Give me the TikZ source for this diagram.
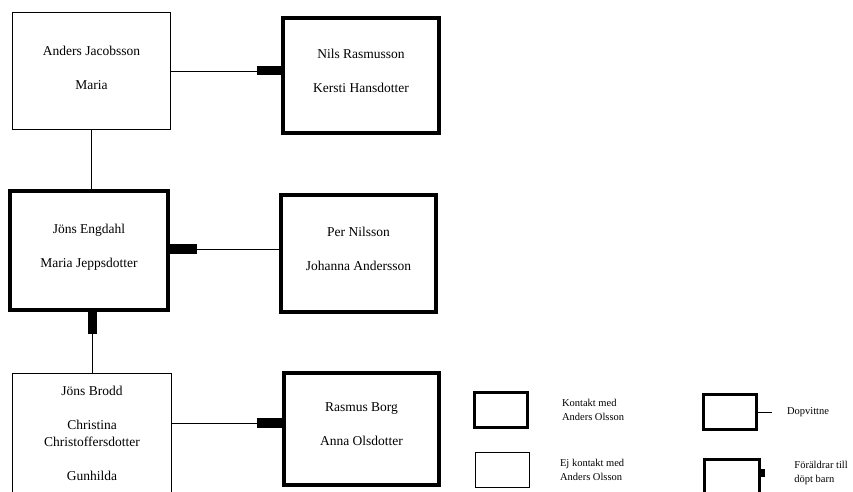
\documentclass[tikz,border=0pt]{standalone}
\usepackage{fontspec}
\setmainfont{Liberation Serif}
\usetikzlibrary{positioning}
\newcommand{\namefont}{\fontsize{13.5}{17}\selectfont}
\newcommand{\keyfont}{\fontsize{10.5}{14}\selectfont}

\begin{document}
\begin{tikzpicture}[x=1pt, y=-1pt, node distance=110pt,
    thinbox/.style={draw, line width=1pt, align=center, font=\namefont, text depth=6pt},
    thickbox/.style={draw, line width=4pt, align=center, font=\namefont, text depth=10pt},
    parentstub/.style={fill, inner sep=0pt},
    connector/.style={line width=0.8pt},
    keytext/.style={align=left, font=\keyfont}]
  \useasboundingbox (0,0) rectangle (853,492);

  \node [thinbox, minimum width=158pt, minimum height=117pt] (andersj) at (91.5,71) {
    Anders Jacobsson \\[17pt] Maria
  } ;
    \node [thickbox, minimum width=156pt, minimum height=115pt, right=110pt of andersj, yshift=-4.5pt] (nilsr) {
      Nils Rasmusson \\[17pt] Kersti Hansdotter
    } ;
  \node [thickbox, minimum width=158pt, minimum height=119pt, below=59pt of andersj, xshift=-2.5pt] (jonse) {
    Jöns Engdahl \\[17pt] Maria Jeppsdotter
  } ;
    \node [thickbox, minimum width=155pt, minimum height=117pt, right=109pt of jonse, yshift=-3pt] (pern) {
      Per Nilsson \\[17pt] Johanna Andersson
    } ;
  \node [thinbox, minimum width=159pt, minimum height=125pt, below=61pt of jonse, xshift=3pt] (jonsb) {
    Jöns Brodd \\[17pt] Christina \\ Christoffersdotter \\[17pt] Gunhilda
  } ;
    \node [thickbox, minimum width=155pt, minimum height=112pt, right=110pt of jonsb, yshift=7pt] (rasmusb) {
      Rasmus Borg \\[17pt] Anna Olsdotter
    } ;

  \node [parentstub, minimum width=24pt, minimum height=9pt, anchor=east] (nilsrstub) at (nilsr.west |- andersj) {} ;
  \node [parentstub, minimum width=27pt, minimum height=10pt, anchor=west, yshift=1.5pt] (jonsestub) at (jonse.east) {} ;
  \node [parentstub, minimum width=9pt, minimum height=22pt, anchor=north] (jonsedownstub) at (jonse.south -| jonsb.north) {} ;
  \node [parentstub, minimum width=25pt, minimum height=10pt, anchor=east, yshift=6pt] (rasmusbstub) at (rasmusb.west) {} ;

  \node [thickbox, line width=3pt, minimum width=53pt, minimum height=35pt] (keycontact) at (501,410) {} ;
    \node [keytext, right=29.5pt of keycontact] (keycontacttext) {Kontakt med \\ Anders Olsson} ;
  \node [thinbox, minimum width=54pt, minimum height=35pt, below=23pt of keycontact, xshift=1.5pt] (keynocontact) {} ;
    \node [keytext, right=26.5pt of keynocontact] (keynocontacttext) {Ej kontakt med \\ Anders Olsson} ;
  \node [thickbox, line width=3pt, minimum width=53pt, minimum height=35pt] (keywitness) at (730,412) {} ;
    \coordinate [right=14pt of keywitness] (keywitnessend) ;
    \node [keytext, right=11.5pt of keywitnessend] (keywitnesstext) {Dopvittne} ;
  \node [thickbox, line width=3pt, minimum width=55pt, minimum height=35pt, below=27pt of keywitness, xshift=2pt] (keyparents) {} ;
    \node [parentstub, minimum width=4pt, minimum height=8pt, anchor=west, yshift=4pt] (keyparentsstub) at (keyparents.east) {} ;
    \node [keytext, right=25.5pt of keyparentsstub] (keyparentstext) {Föräldrar till \\ döpt barn} ;

  \path [connector] (andersj) edge (nilsrstub) ;
  \path [connector] (andersj.south) edge (andersj.south |- jonse.north) ;
  \path [connector] (jonsestub) edge (jonsestub -| pern.west) ;
  \path [connector] (jonsedownstub) edge (jonsb) ;
  \path [connector] (jonsb.east |- rasmusbstub) edge (rasmusbstub) ;
  \path [connector] (keywitness) edge (keywitnessend) ;
\end{tikzpicture}
\end{document}
